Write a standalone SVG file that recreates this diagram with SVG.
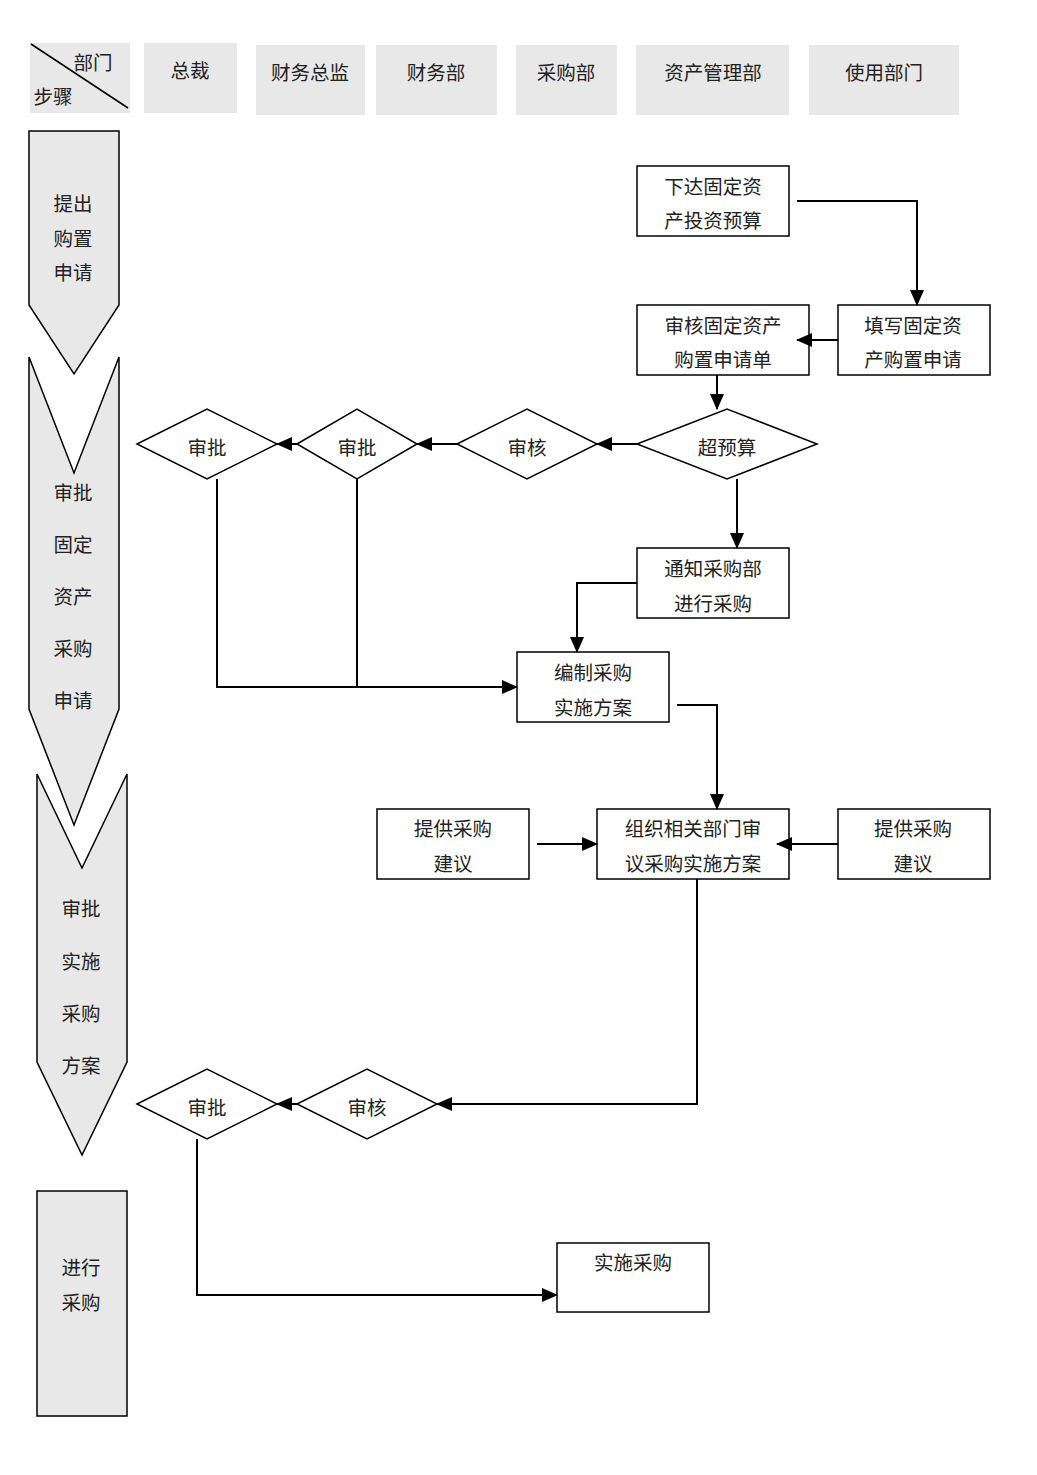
<svg xmlns="http://www.w3.org/2000/svg" width="1037" height="1475" viewBox="0 0 1037 1475">
<style>
text{font-family:"Liberation Serif","Noto Sans CJK SC",serif;font-size:19.5px;fill:#222;text-anchor:middle;dominant-baseline:central}
.hd{fill:#e8e8e8;stroke:none}
.stage{fill:#e8e8e8;stroke:#000;stroke-width:1.5}
.box{fill:#fff;stroke:#000;stroke-width:1.5}
.con{fill:none;stroke:#000;stroke-width:2}
</style>
<defs>
<marker id="ah" markerUnits="userSpaceOnUse" markerWidth="16" markerHeight="14" viewBox="0 0 16 14" refX="15" refY="7" orient="auto">
<path d="M0,0 L16,7 L0,14 Z" fill="#000"/>
</marker>
</defs>
<rect width="1037" height="1475" fill="#fff"/>
<g id="header">
<rect class="hd" x="30" y="43" width="100" height="70"/>
<line x1="31" y1="44" x2="128" y2="108" stroke="#000" stroke-width="1.5"/>
<text x="93" y="63">部门</text>
<text x="53" y="97">步骤</text>
<g id="h-zongcai"><rect class="hd" x="144" y="43" width="93" height="70"/><text x="190" y="71">总裁</text></g>
<g id="h-cwzj"><rect class="hd" x="256" y="45" width="109" height="70"/><text x="310" y="73">财务总监</text></g>
<g id="h-cwb"><rect class="hd" x="376" y="45" width="121" height="70"/><text x="436" y="73">财务部</text></g>
<g id="h-cgb"><rect class="hd" x="516" y="45" width="101" height="70"/><text x="566" y="73">采购部</text></g>
<g id="h-zcglb"><rect class="hd" x="636" y="45" width="153" height="70"/><text x="713" y="73">资产管理部</text></g>
<g id="h-sybm"><rect class="hd" x="809" y="45" width="150" height="70"/><text x="884" y="73">使用部门</text></g>
</g>
<g id="stage1"><path class="stage" d="M29,131 L119,131 L119,305 L74,374 L29,305 Z"/>
<text x="73" y="204">提出</text><text x="73" y="239">购置</text><text x="73" y="273">申请</text></g>
<g id="stage2"><path class="stage" d="M29,357 L74,473 L119,357 L119,709 L74,825 L29,709 Z"/>
<text x="73" y="493">审批</text><text x="73" y="545">固定</text><text x="73" y="597">资产</text><text x="73" y="649">采购</text><text x="73" y="701">申请</text></g>
<g id="stage3"><path class="stage" d="M37,774 L82,868 L127,774 L127,1062 L82,1155 L37,1062 Z"/>
<text x="81" y="909">审批</text><text x="81" y="962">实施</text><text x="81" y="1014">采购</text><text x="81" y="1066">方案</text></g>
<g id="stage4"><rect class="stage" x="37" y="1191" width="90" height="225"/>
<text x="81" y="1268">进行</text><text x="81" y="1303">采购</text></g>

<g id="n-xdys"><rect class="box" x="637" y="166" width="152" height="70"/><text x="713" y="187">下达固定资</text><text x="713" y="221">产投资预算</text></g>
<g id="n-txsq"><rect class="box" x="838" y="305" width="152" height="70"/><text x="913" y="326">填写固定资</text><text x="913" y="360">产购置申请</text></g>
<g id="n-shsq"><rect class="box" x="637" y="305" width="172" height="70"/><text x="723" y="326">审核固定资产</text><text x="723" y="360">购置申请单</text></g>
<g id="n-cys"><polygon class="box" points="637,444 727,409 817,444 727,479"/><text x="727" y="448">超预算</text></g>
<g id="n-sh1"><polygon class="box" points="457,444 527,409 597,444 527,479"/><text x="527" y="448">审核</text></g>
<g id="n-sp2"><polygon class="box" points="297,444 357,409 417,444 357,479"/><text x="357" y="448">审批</text></g>
<g id="n-sp1"><polygon class="box" points="137,444 207,409 277,444 207,479"/><text x="207" y="448">审批</text></g>
<g id="n-tzcg"><rect class="box" x="637" y="548" width="152" height="70"/><text x="713" y="569">通知采购部</text><text x="713" y="604">进行采购</text></g>
<g id="n-bzfa"><rect class="box" x="517" y="652" width="152" height="70"/><text x="593" y="673">编制采购</text><text x="593" y="708">实施方案</text></g>
<g id="n-tgjy1"><rect class="box" x="377" y="809" width="152" height="70"/><text x="453" y="829">提供采购</text><text x="453" y="864">建议</text></g>
<g id="n-zzsy"><rect class="box" x="597" y="809" width="192" height="70"/><text x="693" y="829">组织相关部门审</text><text x="693" y="864">议采购实施方案</text></g>
<g id="n-tgjy2"><rect class="box" x="838" y="809" width="152" height="70"/><text x="913" y="829">提供采购</text><text x="913" y="864">建议</text></g>
<g id="n-sh2"><polygon class="box" points="297,1104 367,1069 437,1104 367,1139"/><text x="367" y="1108">审核</text></g>
<g id="n-sp3"><polygon class="box" points="137,1104 207,1069 277,1104 207,1139"/><text x="207" y="1108">审批</text></g>
<g id="n-sscg"><rect class="box" x="557" y="1243" width="152" height="69"/><text x="633" y="1263">实施采购</text></g>

<g id="connectors">
<path class="con" d="M797,201 L917,201 L917,305" marker-end="url(#ah)"/>
<path class="con" d="M838,340 L797,340" marker-end="url(#ah)"/>
<path class="con" d="M717,375 L717,409" marker-end="url(#ah)"/>
<path class="con" d="M637,444 L597,444" marker-end="url(#ah)"/>
<path class="con" d="M457,444 L417,444" marker-end="url(#ah)"/>
<path class="con" d="M297,444 L277,444" marker-end="url(#ah)"/>
<path class="con" d="M357,479 L357,687"/>
<path class="con" d="M217,479 L217,687 L517,687" marker-end="url(#ah)"/>
<path class="con" d="M737,479 L737,548" marker-end="url(#ah)"/>
<path class="con" d="M637,583 L577,583 L577,652" marker-end="url(#ah)"/>
<path class="con" d="M677,705 L717,705 L717,809" marker-end="url(#ah)"/>
<path class="con" d="M537,844 L597,844" marker-end="url(#ah)"/>
<path class="con" d="M838,844 L777,844" marker-end="url(#ah)"/>
<path class="con" d="M697,879 L697,1104 L437,1104" marker-end="url(#ah)"/>
<path class="con" d="M297,1104 L277,1104" marker-end="url(#ah)"/>
<path class="con" d="M197,1139 L197,1295 L557,1295" marker-end="url(#ah)"/>
</g>
</svg>
